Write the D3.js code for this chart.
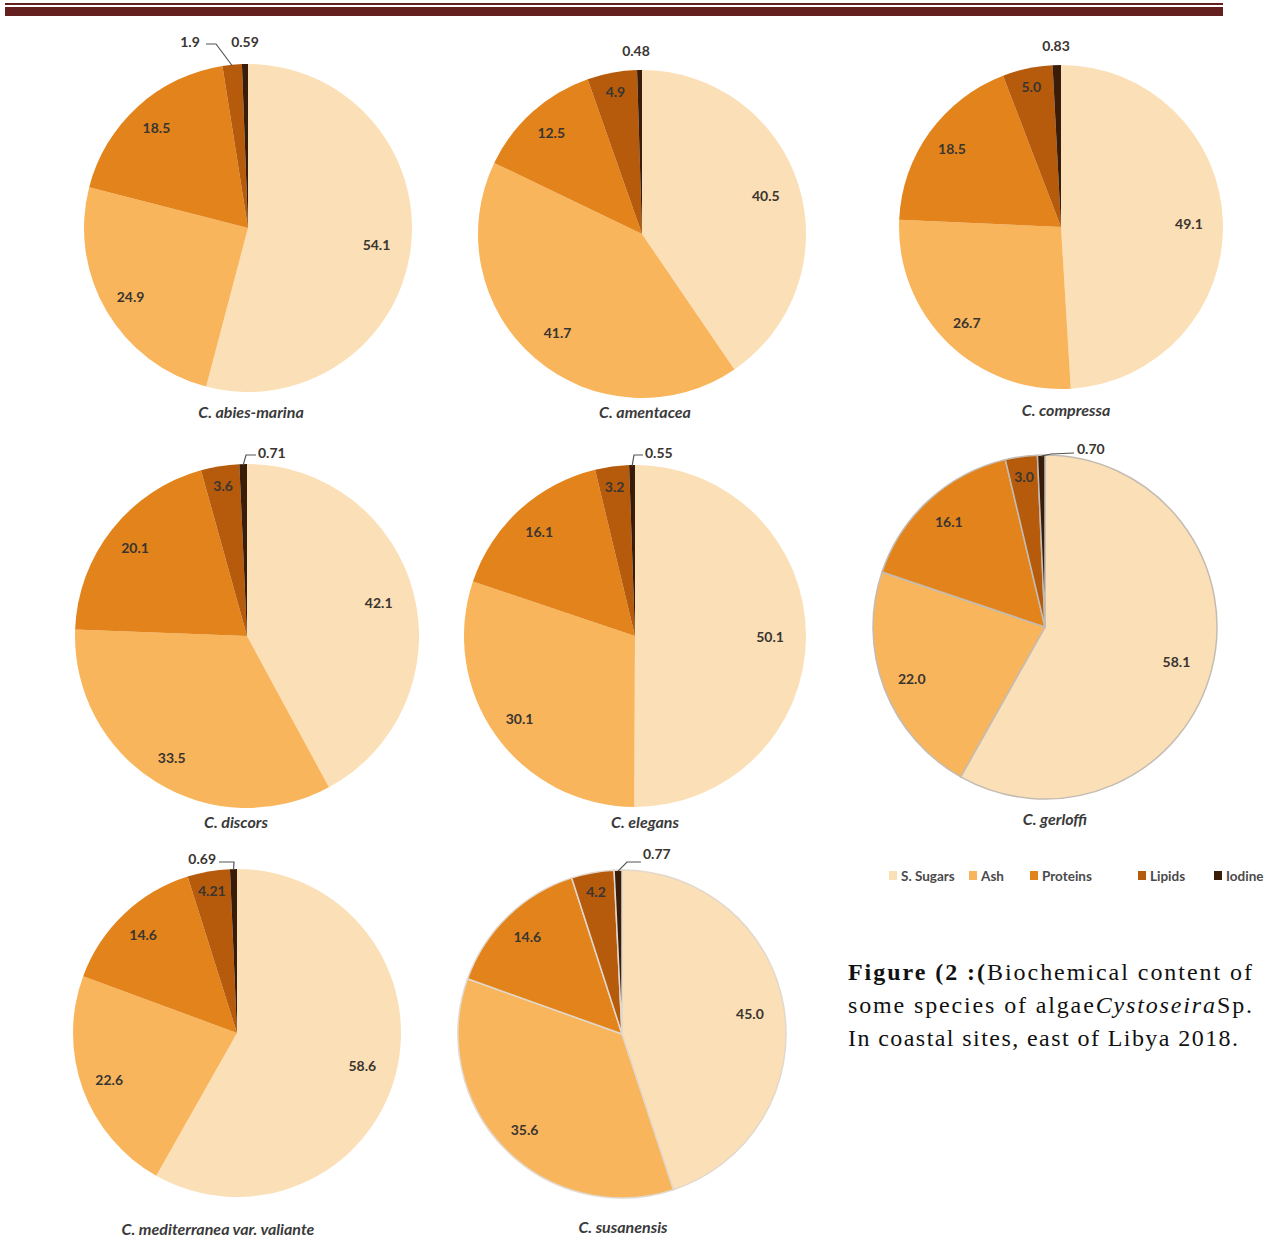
<!DOCTYPE html>
<html><head><meta charset="utf-8">
<script src="https://cdn.jsdelivr.net/npm/d3@7"></script>
<style>
html,body{margin:0;padding:0;background:#fff;}
svg{display:block;}
</style></head>
<body>
<svg id="chart" width="1284" height="1240"></svg>
<script>
// ---------- DATA ----------
const species = ["C. abies-marina","C. amentacea","C. compressa","C. discors","C. elegans","C. gerloffi","C. mediterranea var. valiante","C. susanensis"];
const seriesNames = ["S. Sugars","Ash","Proteins","Lipids","Iodine"];
const sugars   = ["54.1","40.5","49.1","42.1","50.1","58.1","58.6","45.0"];
const ash      = ["24.9","41.7","26.7","33.5","30.1","22.0","22.6","35.6"];
const proteins = ["18.5","12.5","18.5","20.1","16.1","16.1","14.6","14.6"];
const lipids   = ["1.9","4.9","5.0","3.6","3.2","3.0","4.21","4.2"];
const iodine   = ["0.59","0.48","0.83","0.71","0.55","0.70","0.69","0.77"];
const captionLines = [
  [["Figure (2 :(","bold"],["Biochemical content of","normal"]],
  [["some species of algae","normal"],["Cystoseira","italic"],["Sp.","normal"]],
  [["In coastal sites, east of Libya 2018.","normal"]]
];

// ---------- LAYOUT / STYLE ----------
const colors = ["#FBDFB6","#F9B55C","#E2841B","#B65A0C","#3A1D08"];
const pieLayout = [
  {cx:248, cy:228, r:164, ly:418, lx:251, stroke:null},
  {cx:642, cy:234, r:164, ly:418, lx:645, stroke:null},
  {cx:1061,cy:227, r:162, ly:416, lx:1066,stroke:null},
  {cx:247, cy:636, r:172, ly:828, lx:236, stroke:null},
  {cx:635, cy:636, r:171, ly:828, lx:645, stroke:null},
  {cx:1045,cy:627, r:172, ly:825, lx:1055,stroke:"#c4bcb2"},
  {cx:237, cy:1033,r:164, ly:1235,lx:218, stroke:null},
  {cx:622, cy:1034,r:164, ly:1233,lx:623, stroke:"#e2d8cc"}
];
// outside labels: offsets from pie top point
const outsideLabels = [
  {pie:0,s:3,dx:-58,dy:-23,anchor:"middle",leader:[[-32,-20],[-42,-20]]},
  {pie:0,s:4,dx:-3,dy:-23,anchor:"middle",leader:null},
  {pie:1,s:4,dx:-6,dy:-20,anchor:"middle",leader:null},
  {pie:2,s:4,dx:-5,dy:-20,anchor:"middle",leader:null},
  {pie:3,s:4,dx:11,dy:-12,anchor:"start",leader:[[-1,-9],[9,-9]]},
  {pie:4,s:4,dx:10,dy:-13,anchor:"start",leader:[[-1,-10],[8,-10]]},
  {pie:5,s:4,dx:32,dy:-7,anchor:"start",leader:[[6,-1],[29,-2]]},
  {pie:6,s:4,dx:-21,dy:-11,anchor:"end",leader:[[-3,-7],[-18,-7]]},
  {pie:7,s:4,dx:21,dy:-17,anchor:"start",leader:[[5,-8],[19,-8]]}
];

const svg = d3.select("#chart");

// top border
svg.append("rect").attr("x",5).attr("y",3).attr("width",1218).attr("height",2).attr("fill","#64201F");
svg.append("rect").attr("x",5).attr("y",7).attr("width",1218).attr("height",9).attr("fill","#64201F");

const seriesArrays = [sugars, ash, proteins, lipids, iodine];
const pie = d3.pie().sort(null).value(d => +d.text);
const color = d3.scaleOrdinal().domain(seriesNames).range(colors);

species.forEach((sp, i) => {
  const L = pieLayout[i];
  const data = seriesNames.map((name, s) => ({name, s, text: seriesArrays[s][i]}));
  const arcs = pie(data);
  const total = d3.sum(data, d => +d.text);
  const g = svg.append("g").attr("transform", `translate(${L.cx},${L.cy})`);
  const arc = d3.arc().innerRadius(0).outerRadius(L.r);
  g.selectAll("path").data(arcs).join("path")
    .attr("d", arc)
    .attr("fill", d => color(d.data.name))
    .attr("stroke", L.stroke || "none")
    .attr("stroke-width", L.stroke ? 1.5 : 0);

  // inside labels
  const outsideSet = outsideLabels.filter(o => o.pie === i).map(o => o.s);
  arcs.forEach(a => {
    if (outsideSet.includes(a.data.s)) return;
    const frac = (+a.data.text) / total;
    const k = frac < 0.07 ? 0.885 : (frac > 0.4 ? 0.79 : 0.83);
    const la = d3.arc().innerRadius(L.r * k).outerRadius(L.r * k);
    const [x, y] = la.centroid(a);
    g.append("text").attr("x", x).attr("y", y)
      .attr("text-anchor","middle").attr("dominant-baseline","central")
      .attr("font-family","Lato, 'Open Sans', sans-serif").attr("font-weight","bold")
      .attr("font-size", 14).attr("fill","#3a3530")
      .text(a.data.text);
  });

  // outside labels
  outsideLabels.filter(o => o.pie === i).forEach(o => {
    const a = arcs[o.s];
    const pa = d3.arc().innerRadius(L.r - 1).outerRadius(L.r - 1);
    const [sx, sy] = pa.centroid(a);
    const topY = -L.r;
    if (o.leader) {
      const pts = [[sx, sy]].concat(o.leader.map(p => [p[0], topY + p[1]]));
      g.append("path").attr("d", d3.line()(pts))
        .attr("fill","none").attr("stroke","#555").attr("stroke-width",1.2);
    }
    g.append("text").attr("x", o.dx).attr("y", topY + o.dy)
      .attr("text-anchor", o.anchor).attr("dominant-baseline","central")
      .attr("font-family","Lato, 'Open Sans', sans-serif").attr("font-weight","bold")
      .attr("font-size", 14).attr("fill","#3a3530")
      .text(a.data.text);
  });

  // species label
  svg.append("text").attr("x", L.lx).attr("y", L.ly)
    .attr("text-anchor","middle")
    .attr("font-family","Lato, 'Open Sans', sans-serif").attr("font-weight","bold")
    .attr("font-style","italic").attr("font-size", 16).attr("fill","#3a3a3a")
    .text(sp);
});

// legend
const legendX = [889, 969, 1030, 1138, 1214];
const legend = svg.append("g");
seriesNames.forEach((n, s) => {
  legend.append("rect").attr("x", legendX[s]).attr("y", 871).attr("width", 8).attr("height", 9).attr("fill", color(n));
  legend.append("text").attr("x", legendX[s] + 12).attr("y", 876)
    .attr("dominant-baseline","central")
    .attr("font-family","Lato, 'Open Sans', sans-serif").attr("font-weight","bold")
    .attr("font-size", 13.5).attr("fill","#4a4a4a").text(n);
});

// caption
const capY = [972, 1005, 1038];
const capLen = [404, 404, 390];
captionLines.forEach((line, li) => {
  const t = svg.append("text").attr("x", 848).attr("y", capY[li] + 8)
    .attr("font-family","'Liberation Serif', 'Times New Roman', serif")
    .attr("font-size", 24).attr("fill","#111");
  if (capLen[li]) t.attr("textLength", capLen[li]).attr("lengthAdjust","spacing");
  line.forEach(([txt, style]) => {
    const ts = t.append("tspan").text(txt);
    if (style === "bold") ts.attr("font-weight","bold");
    if (style === "italic") ts.attr("font-style","italic");
  });
});
</script>
</body></html>
